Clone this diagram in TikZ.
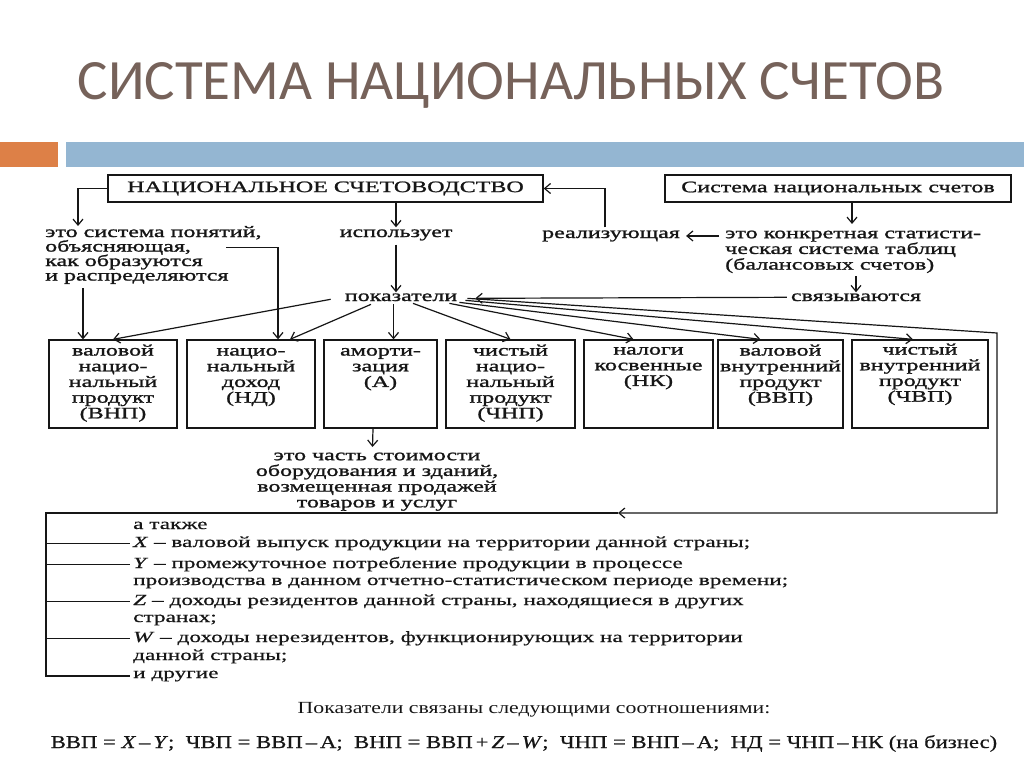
\documentclass[tikz,border=0pt]{standalone}
\usepackage{fontspec}
\usetikzlibrary{arrows.meta,calc}
\setmainfont{Liberation Serif}
\newfontfamily\titlefont{Carlito}
\newfontfamily\dfont[FakeStretch=1.5,FakeBold=1.3]{Liberation Serif}
\newfontfamily\lfont[FakeStretch=1.5,FakeBold=0.6]{Liberation Serif}
\newfontfamily\rfont[FakeStretch=1.28]{Liberation Serif}
\newfontfamily\ffont[FakeStretch=1.26,FakeBold=0.6]{Liberation Serif}
\definecolor{titlecol}{RGB}{118,98,90}
\definecolor{barorange}{RGB}{221,128,71}
\definecolor{barblue}{RGB}{148,182,210}
\definecolor{ink}{RGB}{22,22,22}
\newcommand{\fstrut}{\rule{0pt}{12pt}}
\tikzset{
  dtext/.style={font=\dfont\fontsize{16}{15.7}\selectfont, text=ink, inner sep=0pt},
  box/.style={draw=ink, line width=1.3pt, inner sep=0pt},
  bxt/.style={dtext, align=center, anchor=north},
  arr/.style={draw=ink, line width=1.2pt, -{Straight Barb[length=6pt,width=10pt]}},
  ln/.style={draw=ink, line width=1.2pt},
  ltext/.style={font=\lfont\fontsize{15.5}{17}\selectfont, text=ink, inner sep=0pt, anchor=base west},
}
\begin{document}
\begin{tikzpicture}[x=1pt,y=-1pt]
\useasboundingbox (0,0) rectangle (1024,767);
\fill[white] (0,0) rectangle (1024,767);
% title and bars
\node[font=\titlefont\fontsize{57}{60}\selectfont, text=titlecol, anchor=base, inner sep=0pt] (title) at (511,100) {СИСТЕМА НАЦИОНАЛЬНЫХ СЧЕТОВ};
\fill[barorange] (0,142) rectangle (58,167);
\fill[barblue] (66,142) rectangle (1024,167);
% top boxes
\node[box, dtext, minimum width=435, minimum height=27] (nsv) at (325.5,188.5) {НАЦИОНАЛЬНОЕ СЧЕТОВОДСТВО};
\node[box, dtext, minimum width=346, minimum height=27] (sns) at (838,188.5) {Система национальных счетов};
% left definition
\node[dtext, anchor=base west] (d1) at (45,237) {это система понятий,};
\node[dtext, anchor=base west] (d2) at (45,251.5) {объясняющая,};
\node[dtext, anchor=base west] (d3) at (45,266) {как образуются};
\node[dtext, anchor=base west] (d4) at (45,280.5) {и распределяются};
\node[dtext, anchor=base] (isp) at (396,237) {использует};
\node[dtext, anchor=base] (pok) at (401,301) {показатели};
\node[dtext, anchor=base] (real) at (611,238) {реализующая};
\node[dtext, anchor=north west, align=left] (kon) at (725,226) {\fstrut это конкретная статисти-\\ческая система таблиц\\(балансовых счетов)};
\node[dtext, anchor=base] (svz) at (856,301) {связываются};
% boxes row
\node[box, minimum width=128, minimum height=88] (b1) at (113,384) {};
\node[box, minimum width=128, minimum height=88] (b2) at (251,384) {};
\node[box, minimum width=113, minimum height=88] (b3) at (380.5,384) {};
\node[box, minimum width=129, minimum height=88] (b4) at (510.5,384) {};
\node[box, minimum width=129, minimum height=88] (b5) at (648.5,384) {};
\node[box, minimum width=125, minimum height=88] (b6) at (780.5,384) {};
\node[box, minimum width=136, minimum height=88] (b7) at (920,384) {};
\node[bxt] (t1) at ([yshift=-4]b1.north) {\fstrut валовой\\нацио-\\нальный\\продукт\\(ВНП)};
\node[bxt] (t2) at ([yshift=-4]b2.north) {\fstrut нацио-\\нальный\\доход\\(НД)};
\node[bxt] (t3) at ([yshift=-4]b3.north) {\fstrut аморти-\\зация\\(А)};
\node[bxt] (t4) at ([yshift=-4]b4.north) {\fstrut чистый\\нацио-\\нальный\\продукт\\(ЧНП)};
\node[bxt] (t5) at ([yshift=-3]b5.north) {\fstrut налоги\\косвенные\\(НК)};
\node[bxt] (t6) at ([yshift=-4]b6.north) {\fstrut валовой\\внутренний\\продукт\\(ВВП)};
\node[bxt] (t7) at ([yshift=-3]b7.north) {\fstrut чистый\\внутренний\\продукт\\(ЧВП)};
\node[bxt] (am) at (377,448) {\fstrut это часть стоимости\\оборудования и зданий,\\возмещенная продажей\\товаров и услуг};
% bottom list
\node[ltext] (la) at (133,529) {а также};
\node[ltext] (lx) at (133,547) {\textit{X} – валовой выпуск продукции на территории данной страны;};
\node[ltext] (ly1) at (133,568) {\textit{Y} – промежуточное потребление продукции в процессе};
\node[ltext] (ly2) at (133,585) {производства в данном отчетно-статистическом периоде времени;};
\node[ltext] (lz1) at (133,605) {\textit{Z} – доходы резидентов данной страны, находящиеся в других};
\node[ltext] (lz2) at (133,622) {странах;};
\node[ltext] (lw1) at (133,642) {\textit{W} – доходы нерезидентов, функционирующих на территории};
\node[ltext] (lw2) at (133,660) {данной страны;};
\node[ltext] (li) at (133,678) {и другие};
\node[font=\rfont\fontsize{17}{18}\selectfont, text=ink, inner sep=0pt, anchor=base] (rel) at (534,713) {Показатели связаны следующими соотношениями:};
\node[font=\ffont\fontsize{18}{20}\selectfont, text=ink, inner sep=0pt, anchor=base] (frm) at (524,748) {ВВП = \textit{X}\,–\,\textit{Y};\ \ ЧВП = ВВП\,–\,А;\ \ ВНП = ВВП\,+\,\textit{Z}\,–\,\textit{W};\ \ ЧНП = ВНП\,–\,А;\ \ НД = ЧНП\,–\,НК (на бизнес)};
% coordinates
\coordinate (c1) at (78,226);
\coordinate (rt) at (997,333);
\coordinate (rb) at (997,513);
\coordinate (ra) at (618,513);
\coordinate (lt) at (46,513);
\coordinate (vx) at (46,0);
% connectors top
\draw[arr] (nsv.west) -| (c1);
\draw[arr] (nsv.south -| isp) -- ([yshift=2]isp.north);
\draw[arr] ([yshift=-4]isp.south) -- ([yshift=1]pok.north -| isp);
\draw[arr] ([xshift=-6,yshift=3]real.north) |- (nsv.east);
\draw[arr] ([xshift=-6]real.east -| kon.west) -- ([xshift=6]real.east);
\draw[arr] ([xshift=14]sns.south) -- ([xshift=14,yshift=2]sns.south |- kon.north);
\draw[arr] ([yshift=-3]svz.north |- kon.south) -- ([yshift=1]svz.north);
\draw[arr] ([xshift=-4]svz.west) -- ([xshift=18,yshift=-1]pok.east);
\draw[arr] ([xshift=35]d2.east) -| ([xshift=27]b2.north);
\draw[arr] ([xshift=-30,yshift=-4]b1.north |- d4.south) -- ([xshift=-30]b1.north);
% fan from pokazateli
\draw[arr] ([xshift=-14,yshift=-2]pok.west) -- (b1.north);
\draw[arr] ([xshift=-30,yshift=-3]pok.south) -- ([xshift=39]b2.north);
\draw[arr] ([xshift=13,yshift=-3]b3.north |- pok.south) -- ([xshift=13]b3.north);
\draw[arr] ([xshift=12,yshift=-2]pok.south) -- (b4.north);
\draw[arr] ([xshift=-8,yshift=-2]pok.south east) -- ([xshift=-15]b5.north);
\draw[arr] ([xshift=2,yshift=-1]pok.south east) -- ([xshift=-20]b6.north);
\draw[arr] ([xshift=8,yshift=1]pok.south east) -- ([xshift=-7]b7.north);
\draw[arr] ([xshift=10,yshift=3]pok.south east) -- (rt) -- (rb) -- (ra);
\draw[ln] (ra) -- (lt) -- (vx |- li.west) -- ([xshift=-3]li.west);
\draw[arr] ([xshift=-7.5]b3.south) -- ([xshift=-4.5,yshift=1]am.north);
% branches
\foreach \n in {lx,ly1,lz1,lw1}{\draw[ln] (vx |- \n.west) -- ([xshift=-3]\n.west);}
\end{tikzpicture}
\end{document}
